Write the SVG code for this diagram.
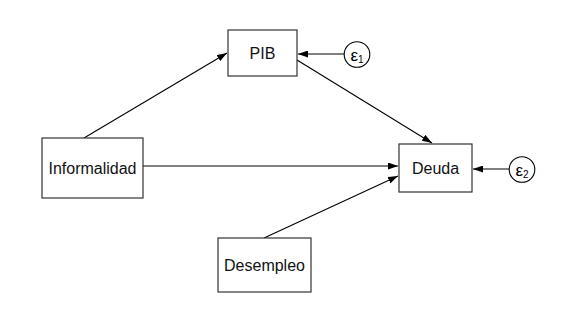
<svg xmlns="http://www.w3.org/2000/svg" width="574" height="332" viewBox="0 0 574 332">
<defs>
<marker id="ah" markerUnits="userSpaceOnUse" markerWidth="10" markerHeight="7" refX="10" refY="3.5" orient="auto">
<path d="M0,0 L10,3.5 L0,7 z" fill="#000"/>
</marker>
<style>
.box{fill:#fff;stroke:#333;stroke-width:1.2}
.lbl{font-family:"Liberation Sans",Arial,sans-serif;font-size:16px;fill:#111;text-anchor:middle}
.err{fill:#fff;stroke:#000;stroke-width:1.1}
.eps{font-family:"Liberation Sans",Arial,sans-serif;font-size:17px;fill:#000}
.sub{font-size:10px}
.edge{stroke:#000;stroke-width:1.1;fill:none;marker-end:url(#ah)}
</style>
</defs>
<rect width="574" height="332" fill="#fff"/>
<g id="connectors">
<line class="edge" x1="84" y1="138" x2="227" y2="53"/>
<line class="edge" x1="143" y1="166" x2="398" y2="166"/>
<line class="edge" x1="264" y1="238" x2="398" y2="176"/>
<line class="edge" x1="297" y1="60" x2="432" y2="143"/>
<line class="edge" x1="344" y1="54" x2="298" y2="54"/>
<line class="edge" x1="509" y1="169" x2="473" y2="169"/>
</g>
<g id="PIB">
<rect class="box" x="228" y="30" width="69" height="46"/>
<text class="lbl" x="262.5" y="59">PIB</text>
</g>
<g id="Informalidad">
<rect class="box" x="42" y="138" width="101" height="60"/>
<text class="lbl" x="92.5" y="174">Informalidad</text>
</g>
<g id="Deuda">
<rect class="box" x="399" y="144" width="73" height="48"/>
<text class="lbl" x="435.5" y="174">Deuda</text>
</g>
<g id="Desempleo">
<rect class="box" x="218" y="238" width="93" height="54"/>
<text class="lbl" x="264.5" y="271">Desempleo</text>
</g>
<g id="e1">
<circle class="err" cx="357" cy="54.5" r="12.8"/>
<text class="eps" x="350.5" y="61">ε<tspan class="sub" dy="1.5">1</tspan></text>
</g>
<g id="e2">
<circle class="err" cx="522" cy="169.5" r="12.8"/>
<text class="eps" x="515.5" y="176">ε<tspan class="sub" dy="1.5">2</tspan></text>
</g>
</svg>
